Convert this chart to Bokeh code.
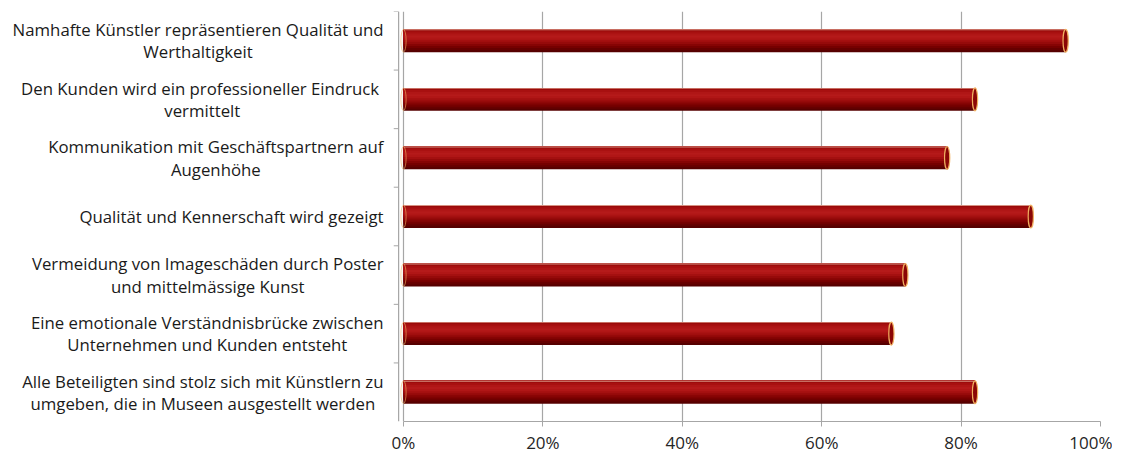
from bokeh.plotting import figure
from bokeh.models import ColumnDataSource, FactorRange, Range1d, FixedTicker, PrintfTickFormatter, Span
from bokeh.transform import dodge
from bokeh.core.properties import value
from bokeh.embed import file_html
from bokeh.resources import INLINE

categories = [
    "Namhafte Künstler repräsentieren Qualität und\nWerthaltigkeit",
    "Den Kunden wird  ein professioneller Eindruck\nvermittelt",
    "Kommunikation mit Geschäftspartnern auf\nAugenhöhe",
    "Qualität und Kennerschaft wird gezeigt",
    "Vermeidung von Imageschäden durch Poster\nund mittelmässige Kunst",
    "Eine emotionale Verständnisbrücke zwischen\nUnternehmen und Kunden entsteht",
    "Alle Beteiligten sind stolz sich mit Künstlern zu\numgeben, die in Museen ausgestellt werden",
]
values = [95, 82, 78, 90, 72, 70, 82]
tick_values = [0, 20, 40, 60, 80, 100]

FONT = "Open Sans"
W, H = 1112, 456
LEFT_PX, RIGHT_PX = 403, 1100
span_units = 100.0 / (RIGHT_PX - LEFT_PX)
x_start = -LEFT_PX * span_units

src = ColumnDataSource(dict(cat=categories, val=values, zero=[0] * len(values)))

p = figure(width=W, height=H, output_backend="svg", toolbar_location=None,
           y_range=FactorRange(factors=list(reversed(categories)), range_padding=0),
           x_range=Range1d(x_start, 100),
           min_border_left=0, min_border_right=W - RIGHT_PX, min_border_top=11,
           min_border_bottom=0)
p.yaxis.visible = False
p.outline_line_color = None
p.ygrid.grid_line_color = None
p.xgrid.grid_line_color = "#a6a6a6"
p.xgrid.grid_line_width = 1.2
p.background_fill_color = "white"
p.border_fill_color = "white"

ax = p.xaxis[0]
ax.ticker = FixedTicker(ticks=tick_values)
ax.formatter = PrintfTickFormatter(format="%d%%")
ax.bounds = (0, 100)
ax.axis_line_color = "#a6a6a6"
ax.axis_line_width = 1.2
ax.major_tick_line_color = "#a6a6a6"
ax.major_tick_out = 5
ax.major_tick_in = 0
ax.minor_tick_line_color = None
ax.major_label_standoff = 4
ax.major_label_text_font = FONT
ax.major_label_text_font_size = "17px"
ax.major_label_text_color = "#262626"

# back wall line
p.add_layout(Span(location=-0.7, dimension="height", line_color="#a6a6a6", line_width=1.2))

# small ticks on the left wall between categories
p.segment(x0=-1.4, x1=-0.7, y0=dodge("cat", 0.5, range=p.y_range),
          y1=dodge("cat", 0.5, range=p.y_range), source=src,
          line_color="#a6a6a6", line_width=1)

# cylinder-like bars: vertical gradient, regions listed top -> bottom
BAR_H = 0.39
strips = ["#9a0a0a", "#a81010", "#b01616", "#b51a1a", "#b01616", "#a41010",
          "#960a0a", "#860404", "#760000", "#660000", "#560000"]
n = len(strips)
sh = BAR_H / n
top = BAR_H / 2
for k in range(n - 1, -1, -1):
    hgt = (k + 1) * sh
    p.hbar(y=dodge("cat", top - hgt / 2, range=p.y_range), left="zero", right="val",
           height=hgt, source=src, fill_color=strips[k], line_color=None)
# light top rim
p.hbar(y=dodge("cat", top - 0.007, range=p.y_range), left="zero", right="val",
       height=0.016, source=src, fill_color="#d69080", line_color=None)
# end caps
p.ellipse(x="val", y="cat", width=0.75, height=BAR_H, source=src,
          fill_color="#8a0606", line_color="#f0b060", line_width=1.2)
p.ellipse(x="zero", y="cat", width=0.75, height=BAR_H, source=src,
          fill_color=None, line_color="#f0b060", line_width=1.0, line_alpha=0.6)

# category labels (right-aligned block, centred lines)
p.text(x="zero", y="cat", text="cat", source=src, x_offset=-20,
       text_font=value(FONT), text_font_size="16.8px", text_color="#1a1a1a",
       text_align="center", text_baseline="middle", anchor="center_right",
       text_line_height=0.97)

open("out.html", "w").write(file_html(p, INLINE))
